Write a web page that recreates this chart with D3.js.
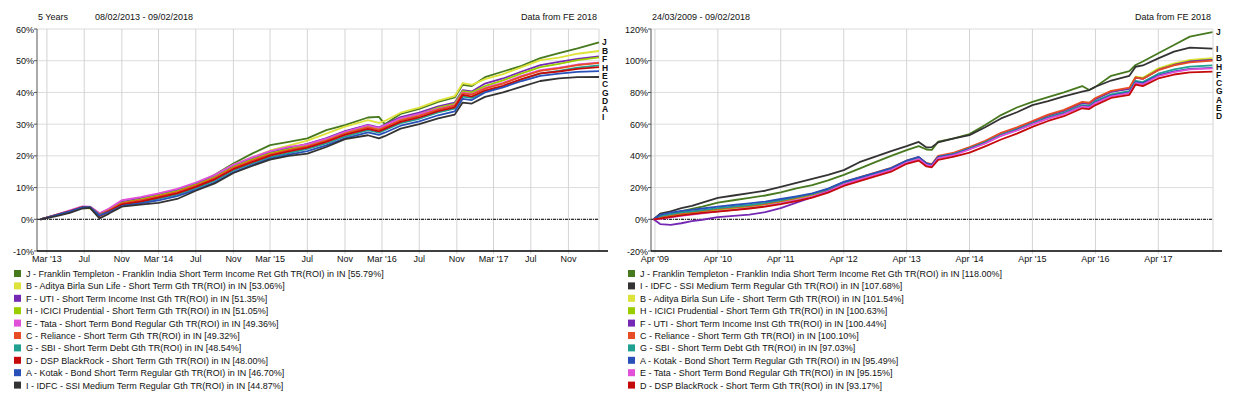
<!DOCTYPE html>
<html>
<head>
<meta charset="utf-8">
<script src="https://cdn.jsdelivr.net/npm/d3@7"></script>
<style>
  body { margin: 0; background: #fff; }
  svg { display: block; }
</style>
</head>
<body>
<svg id="chart" width="1236" height="398"></svg>
<script>
// ---- left panel: 5 years ----
const leftDates = ["2013-02-08","2013-04-01","2013-05-15","2013-06-25","2013-07-20","2013-08-20","2013-09-20","2013-11-01",
  "2014-01-01","2014-03-01","2014-05-01","2014-07-01","2014-09-01","2014-11-01","2015-01-01","2015-03-01","2015-05-01",
  "2015-07-01","2015-09-01","2015-11-01","2016-01-15","2016-02-20","2016-03-10","2016-05-01","2016-07-01","2016-09-01",
  "2016-10-25","2016-11-20","2016-12-20","2017-02-01","2017-04-01","2017-06-01","2017-08-01","2017-10-01","2017-12-01","2018-02-09"];

const leftJ = [0,1.4,2.6,3.9,3.9,1.4,2.9,5.1,6.2,7.4,8.8,11.0,14.0,17.6,20.7,23.4,24.4,25.5,28.1,29.7,32.1,32.3,30.0,33.2,34.8,37.0,38.4,42.4,42.0,44.8,46.6,48.4,50.8,52.4,53.9,55.79];
const leftB = [0,1.4,2.5,3.6,3.4,1.7,3.1,5.4,6.5,7.7,9.2,11.3,13.8,17.2,19.5,21.7,23.2,24.8,27.0,29.2,31.3,30.4,31.0,33.6,35.2,37.4,38.8,42.9,42.4,44.2,45.8,48.0,50.2,51.0,52.2,53.06];
const leftF = [0,1.4,2.6,3.9,3.9,1.8,3.1,5.5,6.6,7.8,9.2,11.2,13.6,16.8,19.1,21.1,22.4,23.8,25.6,27.8,29.8,29.0,29.8,32.2,33.6,35.6,36.8,40.7,40.3,42.8,44.4,46.6,48.6,49.6,50.6,51.35];
const leftH = [0,1.4,2.6,3.8,3.9,1.6,3.0,5.2,6.3,7.5,8.9,10.9,13.3,16.5,18.8,20.8,22.1,23.4,25.2,27.4,29.4,28.6,29.4,31.7,33.1,35.2,36.4,40.4,40.0,42.0,43.8,46.0,48.0,49.0,50.2,51.05];
const leftE = [0,1.5,2.8,4.1,4.0,1.9,3.4,6.0,7.0,8.2,9.6,11.6,14.0,17.2,19.5,21.5,22.8,23.6,25.4,27.6,29.6,28.8,29.6,31.8,33.2,34.8,36.0,39.9,39.5,41.4,43.0,45.2,47.0,47.8,48.8,49.36];
const leftC = [0,1.4,2.6,3.9,3.9,1.5,2.8,5.0,6.0,7.2,8.6,10.6,13.0,16.2,18.5,20.5,21.8,23.0,24.8,27.0,29.0,28.2,29.0,31.2,32.6,34.6,35.8,39.7,39.3,41.2,42.8,45.0,46.8,47.6,48.6,49.32];
const leftG = [0,1.3,2.4,3.7,3.8,1.3,2.5,4.4,5.3,6.5,7.8,9.8,12.2,15.4,17.6,19.6,20.9,22.2,23.9,26.1,28.1,27.3,28.1,30.3,31.7,33.7,34.9,38.7,38.3,40.3,41.9,44.1,45.9,46.8,47.8,48.54];
const leftD = [0,1.3,2.5,3.8,3.7,1.0,2.5,4.7,5.6,6.8,8.2,10.2,12.6,15.8,18.0,20.1,21.4,22.6,24.4,26.6,28.5,27.7,28.5,30.7,32.1,34.1,35.3,39.2,38.7,40.6,42.1,44.2,46.0,46.6,47.4,48.00];
const leftA = [0,1.3,2.5,3.8,3.8,1.2,2.3,4.2,5.0,6.0,7.3,9.3,11.6,14.8,17.1,19.1,20.4,21.5,23.3,25.5,27.4,26.6,27.3,29.5,30.9,32.8,34.0,38.0,37.6,40.0,41.6,43.6,45.2,45.9,46.5,46.70];
const leftI = [0,1.0,2.0,3.4,3.6,0.3,1.8,4.0,4.6,5.2,6.4,9.0,11.3,14.6,16.8,18.8,20.0,20.7,22.8,25.3,26.5,25.5,26.2,28.6,30.0,31.8,33.0,36.8,36.5,38.6,40.0,41.8,43.6,44.4,44.8,44.87];

// ---- right panel: since launch ----
const rightDates = ["2009-03-24","2009-05-01","2009-07-01","2009-09-01","2009-11-01","2010-01-01","2010-04-01","2010-07-01",
  "2010-10-01","2011-01-01","2011-04-01","2011-07-01","2011-10-01","2012-01-01","2012-04-01","2012-07-01","2012-10-01",
  "2013-01-01","2013-04-01","2013-06-10","2013-07-25","2013-08-25","2013-10-01","2014-01-01","2014-04-01","2014-07-01",
  "2014-10-01","2015-01-01","2015-04-01","2015-07-01","2015-10-01","2016-01-15","2016-02-25","2016-04-01","2016-07-01",
  "2016-10-15","2016-11-20","2017-01-01","2017-04-01","2017-07-01","2017-10-01","2018-02-09"];

const rightJ = [0,1.5,3.0,5.0,6.5,8.0,10.5,12.0,13.5,15.0,17.0,19.5,21.5,24.5,28.0,32.0,36.0,40.0,43.6,46.1,44.0,43.8,49.0,51.0,53.7,59.5,65.7,70.5,74.0,77.0,80.0,84.0,81.5,83.5,90.5,93.5,97.3,99.5,104.7,109.9,115.2,118.00];
const rightI = [0,3.5,5.0,7.0,8.5,10.5,13.5,15.0,16.5,18.0,20.5,23.0,25.5,28.0,31.0,36.0,39.5,43.0,46.1,48.8,45.3,45.5,48.5,51.0,53.1,58.0,63.6,67.5,72.0,74.5,77.5,80.5,81.5,83.6,87.5,90.5,96.2,97.0,101.5,105.7,108.2,107.68];
const rightB = [0,0.5,1.8,2.8,3.5,4.3,5.0,6.0,7.0,8.3,10.0,12.0,14.3,17.5,22.5,25.5,28.5,31.5,36.0,38.2,34.5,33.8,39.2,41.2,44.7,48.7,53.7,57.2,61.2,65.2,68.2,73.7,73.2,76.2,80.7,82.7,90.0,89.3,95.2,98.3,100.5,101.54];
const rightH = [0,1.2,2.4,3.4,4.1,4.9,6.0,7.0,8.0,9.3,11.0,13.0,15.3,18.5,23.0,26.0,29.0,32.0,36.5,38.7,35.0,34.3,39.5,41.5,45.0,49.0,54.0,57.5,61.5,65.5,68.5,73.5,73.0,76.0,80.5,82.5,89.5,88.8,94.5,97.6,99.8,100.63];
const rightF = [0,-3.0,-3.5,-2.5,-1.2,-0.3,1.3,2.2,3.0,4.5,7.0,10.5,14.0,18.0,22.0,25.5,28.8,32.0,36.6,38.8,35.0,34.2,39.4,41.5,45.0,49.0,54.0,57.5,61.5,65.3,68.3,73.3,72.8,75.8,80.3,82.3,89.3,88.5,94.2,97.3,99.5,100.44];
const rightC = [0,1.5,2.8,3.8,4.5,5.3,6.5,7.5,8.5,9.8,11.5,13.5,15.8,19.0,23.5,26.5,29.5,32.5,37.0,39.2,35.5,34.8,40.0,42.0,45.5,49.5,54.5,58.0,62.0,66.0,69.0,74.0,73.5,76.5,81.0,83.0,89.5,88.5,94.0,97.0,99.0,100.10];
const rightG = [0,2.0,3.3,4.3,5.0,5.8,7.0,8.0,9.0,10.3,12.0,14.0,16.0,19.0,23.3,26.2,29.0,32.0,36.5,38.8,35.0,34.2,39.3,41.2,44.7,48.5,53.3,56.7,60.5,64.3,67.2,72.0,71.5,74.5,78.8,80.8,87.3,86.5,91.8,94.5,96.3,97.03];
const rightA = [0,2.8,4.2,5.3,6.0,6.8,8.0,9.0,10.0,11.2,12.8,14.5,16.4,19.4,23.6,26.4,29.3,32.3,37.0,39.3,35.2,34.4,39.3,41.0,44.4,48.0,52.8,56.2,60.0,63.8,66.6,71.3,70.8,73.8,78.0,80.0,86.5,85.7,90.8,93.3,94.9,95.49];
const rightE = [0,0.3,1.2,2.2,3.0,3.8,5.0,6.0,7.0,8.3,10.0,12.0,14.3,17.5,22.0,25.0,28.0,31.0,35.8,38.0,34.3,33.5,38.5,40.5,44.0,47.8,52.6,56.0,59.8,63.5,66.3,71.0,70.5,73.3,77.5,79.5,85.8,85.0,90.2,92.8,94.5,95.15];
const rightD = [0,0.5,1.5,2.5,3.2,4.0,4.8,5.8,6.8,8.0,9.6,11.5,13.6,16.8,21.0,24.0,27.0,30.0,35.0,37.0,33.3,32.8,37.5,39.5,42.0,46.0,50.3,54.0,58.3,62.0,65.0,70.0,69.5,72.0,76.5,78.5,85.0,84.0,88.8,91.3,92.6,93.17];

const fundNames = {
  J: "Franklin Templeton - Franklin India Short Term Income Ret Gth TR(ROI) in IN",
  B: "Aditya Birla Sun Life - Short Term Gth TR(ROI) in IN",
  F: "UTI - Short Term Income Inst Gth TR(ROI) in IN",
  H: "ICICI Prudential - Short Term Gth TR(ROI) in IN",
  E: "Tata - Short Term Bond Regular Gth TR(ROI) in IN",
  C: "Reliance - Short Term Gth TR(ROI) in IN",
  G: "SBI - Short Term Debt Gth TR(ROI) in IN",
  D: "DSP BlackRock - Short Term Gth TR(ROI) in IN",
  A: "Kotak - Bond Short Term Regular Gth TR(ROI) in IN",
  I: "IDFC - SSI Medium Term Regular Gth TR(ROI) in IN"
};
const fundColors = {
  J: "#47791f", B: "#dde33a", F: "#7428b4", H: "#9acd00", E: "#e050d8",
  C: "#e84c24", G: "#20a090", D: "#c40a0a", A: "#2850b8", I: "#333333"
};

const leftOrder = ["J","B","F","H","E","C","G","D","A","I"];
const rightOrder = ["J","I","B","H","F","C","G","A","E","D"];
const leftTicksY = [-10,0,10,20,30,40,50,60];
const rightTicksY = [-20,0,20,40,60,80,100,120];

// the original uses a narrow bitmap-like font; use the narrow Liberation face if it is there
function hasFont(name) {
  const c = document.createElement("canvas").getContext("2d");
  c.font = "20px monospace";
  const w = c.measureText("abcdefghijklmnopqrstuvwxyz").width;
  c.font = `20px '${name}', monospace`;
  return c.measureText("abcdefghijklmnopqrstuvwxyz").width !== w;
}
const narrow = hasFont("Liberation Sans Narrow");
const FONT = narrow ? "'Liberation Sans Narrow', 'Liberation Sans', Arial, sans-serif" : "'Liberation Sans', Arial, sans-serif";
const FS = narrow ? 10.5 : 9;

const svg = d3.select("#chart").attr("font-family", FONT);
svg.append("rect").attr("width", 1236).attr("height", 398).attr("fill", "#fff");
const parse = d3.timeParse("%Y-%m-%d");

function drawPanel(p) {
  const g = svg.append("g");
  const dates = p.dates.map(parse);
  const x = d3.scaleTime().domain(d3.extent(dates)).range(p.xRange);
  const y = d3.scaleLinear().domain(p.yDomain).range([251, 29]);
  const top = y(p.yDomain[1]), bottom = y(p.yDomain[0]);

  // grid
  g.selectAll(".hg").data(p.yTicks.slice(1)).join("line")
    .attr("x1", p.axisX).attr("x2", p.rightX)
    .attr("y1", d => y(d)).attr("y2", d => y(d))
    .attr("stroke", "#dcdcdc");
  g.selectAll(".vg").data(p.xTicks).join("line")
    .attr("x1", d => x(d)).attr("x2", d => x(d))
    .attr("y1", top).attr("y2", bottom + 3)
    .attr("stroke", "#d4d4d4");
  g.append("line").attr("x1", p.rightX).attr("x2", p.rightX)
    .attr("y1", top).attr("y2", bottom).attr("stroke", "#d4d4d4");

  // zero line
  g.append("line").attr("x1", p.axisX).attr("x2", p.rightX)
    .attr("y1", y(0)).attr("y2", y(0))
    .attr("stroke", "#000").attr("stroke-dasharray", "3,1,1,1");

  // y axis
  g.append("line").attr("x1", p.axisX).attr("x2", p.axisX)
    .attr("y1", top).attr("y2", bottom).attr("stroke", "#555");
  g.selectAll(".yt").data(p.yTicks).join("line")
    .attr("x1", p.axisX - 3).attr("x2", p.axisX)
    .attr("y1", d => y(d)).attr("y2", d => y(d)).attr("stroke", "#555");
  g.selectAll(".yl").data(p.yTicks).join("text")
    .attr("x", p.axisX - 3).attr("y", d => y(d) + 3.5)
    .attr("text-anchor", "end").attr("font-size", FS).attr("fill", "#111")
    .text(d => d + "%");

  // x axis
  g.append("line").attr("x1", p.axisX).attr("x2", p.axisEnd)
    .attr("y1", bottom).attr("y2", bottom).attr("stroke", "#000").attr("stroke-width", 1.5);
  g.selectAll(".xl").data(p.xTicks).join("text")
    .attr("x", d => x(d)).attr("y", bottom + 11)
    .attr("text-anchor", "middle").attr("font-size", FS).attr("fill", "#111")
    .text(p.xFormat);

  // series
  const line = d3.line().x((d, i) => x(dates[i])).y(d => y(d));
  p.order.forEach(k => {
    g.append("path").datum(p.values[k])
      .attr("d", line).attr("fill", "none")
      .attr("stroke", fundColors[k]).attr("stroke-width", 1.8)
      .attr("stroke-linejoin", "round");
  });

  // end letters, pushed down so they do not collide
  const ends = p.order.map(k => ({ k, v: p.values[k][p.values[k].length - 1] }))
    .sort((a, b) => b.v - a.v);
  let prev = -Infinity;
  ends.forEach(e => {
    const yy = Math.max(y(e.v), prev + 8.3);
    prev = yy;
    g.append("text").attr("x", p.labelX).attr("y", yy + 3)
      .attr("font-size", 8.5).attr("font-weight", "bold").attr("fill", "#111")
      .text(e.k);
  });

  // header
  p.header.forEach(h => {
    g.append("text").attr("x", h.x).attr("y", 20).attr("font-size", FS)
      .attr("text-anchor", h.anchor || "start").attr("fill", "#111").text(h.t);
  });

  // legend
  p.order.forEach((k, i) => {
    const vals = p.values[k];
    const yy = 273.5 + i * 12.4;
    g.append("rect").attr("x", p.legendX).attr("y", yy - 3.5)
      .attr("width", 7).attr("height", 7).attr("fill", fundColors[k]);
    g.append("text").attr("x", p.legendX + 12).attr("y", yy + 3.5)
      .attr("font-size", FS).attr("fill", "#111")
      .text(`${k} - ${fundNames[k]} [${vals[vals.length - 1].toFixed(2)}%]`);
  });
}

const fmtLeft = d => d.getMonth() === 2 ? "Mar '" + d3.timeFormat("%y")(d) : d3.timeFormat("%b")(d);
const fmtRight = d => "Apr '" + d3.timeFormat("%y")(d);

drawPanel({
  dates: leftDates,
  values: { J: leftJ, B: leftB, F: leftF, H: leftH, E: leftE, C: leftC, G: leftG, D: leftD, A: leftA, I: leftI },
  order: leftOrder,
  yDomain: [-10, 60], yTicks: leftTicksY,
  axisX: 37, rightX: 599, axisEnd: 608, xRange: [40.5, 599],
  xTicks: d3.timeMonth.range(new Date(2013, 2, 1), new Date(2018, 1, 9), 4),
  xFormat: fmtLeft,
  labelX: 602, legendX: 14,
  header: [{ t: "5 Years", x: 38 }, { t: "08/02/2013 - 09/02/2018", x: 95 }, { t: "Data from FE 2018", x: 597, anchor: "end" }]
});

drawPanel({
  dates: rightDates,
  values: { J: rightJ, I: rightI, B: rightB, H: rightH, F: rightF, C: rightC, G: rightG, A: rightA, E: rightE, D: rightD },
  order: rightOrder,
  yDomain: [-20, 120], yTicks: rightTicksY,
  axisX: 651, rightX: 1213, axisEnd: 1222, xRange: [653.6, 1212.4],
  xTicks: d3.timeMonth.range(new Date(2009, 3, 1), new Date(2018, 1, 9), 12),
  xFormat: fmtRight,
  labelX: 1216, legendX: 628,
  header: [{ t: "24/03/2009 - 09/02/2018", x: 652 }, { t: "Data from FE 2018", x: 1211, anchor: "end" }]
});
</script>
</body>
</html>
